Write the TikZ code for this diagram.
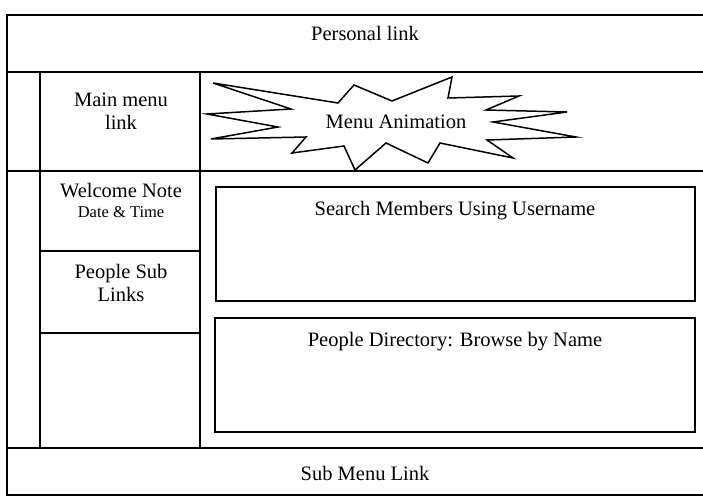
\documentclass[tikz,border=0pt]{standalone}
\usepackage{fontspec}
\setmainfont{Liberation Serif}
\begin{document}
\begin{tikzpicture}[x=1pt,y=-1pt,
  frame/.style={line width=1.6pt,line cap=rect},
  panel/.style={line width=1.5pt},
  label/.style={inner sep=0pt,align=center,font=\fontsize{20.5}{23}\selectfont},
  small/.style={inner sep=0pt,font=\fontsize{16.5}{19}\selectfont}]
\useasboundingbox (0,0) rectangle (703,497);

% outer frame (open on the right)
\draw[frame] (703,15) -- (7,15) -- (7,495) -- (703,495);
% horizontal bands
\draw[frame] (7,72) -- (703,72);
\draw[frame] (7,171) -- (703,171);
\draw[frame] (7,448) -- (703,448);
% left columns
\draw[frame] (40,72) -- (40,448);
\draw[frame] (200,72) -- (200,448);
\draw[frame] (40,251) -- (200,251);
\draw[frame] (40,333) -- (200,333);

% content panels
\draw[panel] (216,187) rectangle (695,301);
\draw[panel] (215,318) rectangle (695,432);

% starburst
\draw[panel,fill=white,line join=miter]
  (213,83) -- (338,103) -- (354,85) -- (392,101) -- (452,77) -- (448,98)
  -- (519,96) -- (486,110) -- (567,112) -- (493,122) -- (576,137)
  -- (487,140) -- (513,158) -- (440,143) -- (428,163) -- (386,143)
  -- (355,170) -- (344,146) -- (292,153) -- (306,137) -- (211,139)
  -- (278,127) -- (207,114) -- (291,109) -- cycle;

% labels
\node[label] (personal) at (365,33) {Personal link};
\node[label] (mainmenu) at (121,111) {Main menu\\link};
\node[label] (anim) at (396,122) {Menu Animation};
\node[label] (welcome) at (121,191) {Welcome Note};
\node[small] (datetime) at (121,212) {Date \& Time};
\node[label] (people) at (121,283) {People Sub\\Links};
\node[label] (search) at (455,211) {Search Members Using Username};
\node[label] (directory) at (455,342) {People Directory: Browse by Name};
\node[label] (submenu) at (365,473) {Sub Menu Link};
\end{tikzpicture}
\end{document}
